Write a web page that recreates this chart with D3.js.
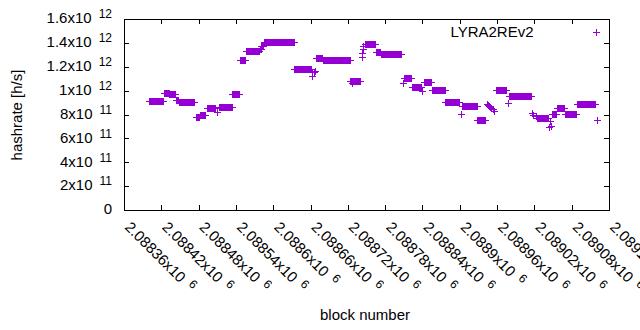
<!DOCTYPE html>
<html>
<head>
<meta charset="utf-8">
<script src="https://cdn.jsdelivr.net/npm/d3@7.9.0/dist/d3.min.js"></script>
<style>
body { margin: 0; background: #fff; }
text { font-family: "Liberation Sans", Arial, sans-serif; fill: #000; }
</style>
</head>
<body>
<svg id="chart" width="640" height="330"></svg>
<script>
// runs of blocks sharing the same hashrate estimate (first block, last block, h/s)
const runStart = [2088401, 2088424, 2088433, 2088443, 2088448, 2088475, 2088482, 2088493, 2088509, 2088512,
    2088534, 2088546, 2088557, 2088578, 2088581, 2088585, 2088634, 2088662, 2088663, 2088666,
    2088667, 2088669, 2088680, 2088724, 2088726, 2088727, 2088742, 2088743, 2088744, 2088745,
    2088747, 2088766, 2088773, 2088809, 2088811, 2088823, 2088840, 2088843, 2088856, 2088877,
    2088902, 2088904, 2088928, 2088943, 2088945, 2088947, 2088949, 2088951, 2088953, 2088955,
    2088959, 2088977, 2088979, 2089016, 2089018, 2089022, 2089024, 2089043, 2089045, 2089046,
    2089049, 2089056, 2089070, 2089088, 2089120];
const runEnd = [2088422, 2088432, 2088442, 2088447, 2088473, 2088481, 2088491, 2088507, 2088510, 2088533,
    2088545, 2088555, 2088577, 2088580, 2088584, 2088633, 2088660, 2088662, 2088663, 2088666,
    2088667, 2088679, 2088723, 2088725, 2088726, 2088739, 2088742, 2088743, 2088744, 2088745,
    2088764, 2088772, 2088805, 2088809, 2088822, 2088838, 2088840, 2088854, 2088876, 2088899,
    2088902, 2088927, 2088941, 2088943, 2088945, 2088947, 2088949, 2088951, 2088953, 2088955,
    2088974, 2088977, 2089014, 2089016, 2089018, 2089022, 2089042, 2089044, 2089045, 2089047,
    2089055, 2089068, 2089087, 2089118, 2089120];
const runValue = [9.15e11, 9.80e11, 9.70e11, 9.20e11, 9.03e11, 7.81e11, 7.94e11, 8.54e11, 8.17e11, 8.64e11,
    9.73e11, 1.257e12, 1.332e12, 1.345e12, 1.374e12, 1.407e12, 1.183e12, 1.160e12, 1.121e12, 1.154e12,
    1.163e12, 1.275e12, 1.258e12, 1.079e12, 1.060e12, 1.079e12, 1.283e12, 1.317e12, 1.345e12, 1.372e12,
    1.392e12, 1.325e12, 1.309e12, 1.066e12, 1.107e12, 1.032e12, 9.95e11, 1.074e12, 1.005e12, 9.06e11,
    8.06e11, 8.71e11, 7.54e11, 8.84e11, 8.76e11, 8.68e11, 8.60e11, 8.52e11, 8.42e11, 8.30e11,
    1.004e12, 8.98e11, 9.57e11, 8.14e11, 8.00e11, 7.87e11, 7.71e11, 6.97e11, 7.44e11, 7.00e11,
    8.06e11, 8.56e11, 8.06e11, 8.90e11, 7.50e11];

const xTickValues = [2088360, 2088420, 2088480, 2088540, 2088600, 2088660, 2088720,
    2088780, 2088840, 2088900, 2088960, 2089020, 2089080, 2089140];
const yTickValues = [0, 2e11, 4e11, 6e11, 8e11, 1e12, 1.2e12, 1.4e12, 1.6e12];
const seriesName = 'LYRA2REv2';
const color = '#9400d3';

const svg = d3.select('#chart');
const x = d3.scaleLinear().domain([2088360, 2089140]).range([124, 609]);
const y = d3.scaleLinear().domain([0, 1.6e12]).range([210, 19]);

// gnuplot style "2.08836x10^6"
function sci(v) {
    if (v === 0) return ['0', null];
    const e = Math.floor(Math.log10(v) + 1e-9);
    const m = +(v / Math.pow(10, e)).toPrecision(6);
    return [m + 'x10', e];
}

function bareAxis(axis) {
    return axis.tickSizeInner(-5).tickSizeOuter(0).tickFormat('');
}

const gx = svg.append('g').attr('transform', 'translate(0,210)')
    .call(bareAxis(d3.axisBottom(x).tickValues(xTickValues)));
const gxt = svg.append('g').attr('transform', 'translate(0,19)')
    .call(bareAxis(d3.axisTop(x).tickValues(xTickValues)));
const gy = svg.append('g').attr('transform', 'translate(124,0)')
    .call(bareAxis(d3.axisLeft(y).tickValues(yTickValues)));
const gyr = svg.append('g').attr('transform', 'translate(609,0)')
    .call(bareAxis(d3.axisRight(y).tickValues(yTickValues)));
[gx, gxt, gy, gyr].forEach(g => {
    g.select('.domain').remove();
    g.selectAll('line').attr('stroke', '#000').attr('shape-rendering', 'crispEdges');
});

svg.append('rect')
    .attr('x', 124.5).attr('y', 19.5)
    .attr('width', 485).attr('height', 191)
    .attr('fill', 'none').attr('stroke', '#000')
    .attr('shape-rendering', 'crispEdges');

// y tick labels
yTickValues.forEach(v => {
    const [m, e] = sci(v);
    const t = svg.append('text')
        .attr('x', 112).attr('y', y(v) + 4.3)
        .attr('text-anchor', 'end')
        .style('font-size', '15px');
    t.append('tspan').text(m);
    if (e !== null) {
        t.append('tspan').attr('dx', 7).attr('dy', -5).style('font-size', '12px').text(e);
    }
});

// x tick labels, rotated (the last one runs off the page, as in the original)
xTickValues.forEach(v => {
    const [m, e] = sci(v);
    const t = svg.append('text')
        .attr('transform', `translate(${x(v)},228) rotate(45)`)
        .attr('text-anchor', 'start')
        .style('font-size', '15px');
    t.append('tspan').text(m);
    t.append('tspan').attr('dx', 7).attr('dy', -5).style('font-size', '12px').text(e);
});

svg.append('text')
    .attr('transform', 'translate(22,115) rotate(-90)')
    .attr('text-anchor', 'middle')
    .style('font-size', '15px')
    .text('hashrate [h/s]');

svg.append('text')
    .attr('x', 365).attr('y', 320)
    .attr('text-anchor', 'middle')
    .style('font-size', '15px')
    .text('block number');

// one point per block
const points = [];
runStart.forEach((s, i) => {
    for (let b = s; b <= runEnd[i]; b++) points.push({ block: b, value: runValue[i] });
});

const r = 3.5;
function plus(cx, cy) {
    return `M${cx - r},${cy}H${cx + r}M${cx},${cy - r}V${cy + r}`;
}

svg.append('g')
    .selectAll('path')
    .data(points)
    .join('path')
    .attr('d', d => plus(Math.round(x(d.block)) + 0.5, Math.round(y(d.value)) + 0.5))
    .attr('fill', 'none')
    .attr('stroke', color)
    .attr('stroke-width', 1)
    .attr('shape-rendering', 'crispEdges');

// key
svg.append('text')
    .attr('x', 533.5).attr('y', 37.3)
    .attr('text-anchor', 'end')
    .style('font-size', '15px')
    .text(seriesName);
svg.append('path')
    .attr('d', plus(596.5, 32.5))
    .attr('fill', 'none')
    .attr('stroke', color)
    .attr('shape-rendering', 'crispEdges');
</script>
</body>
</html>
